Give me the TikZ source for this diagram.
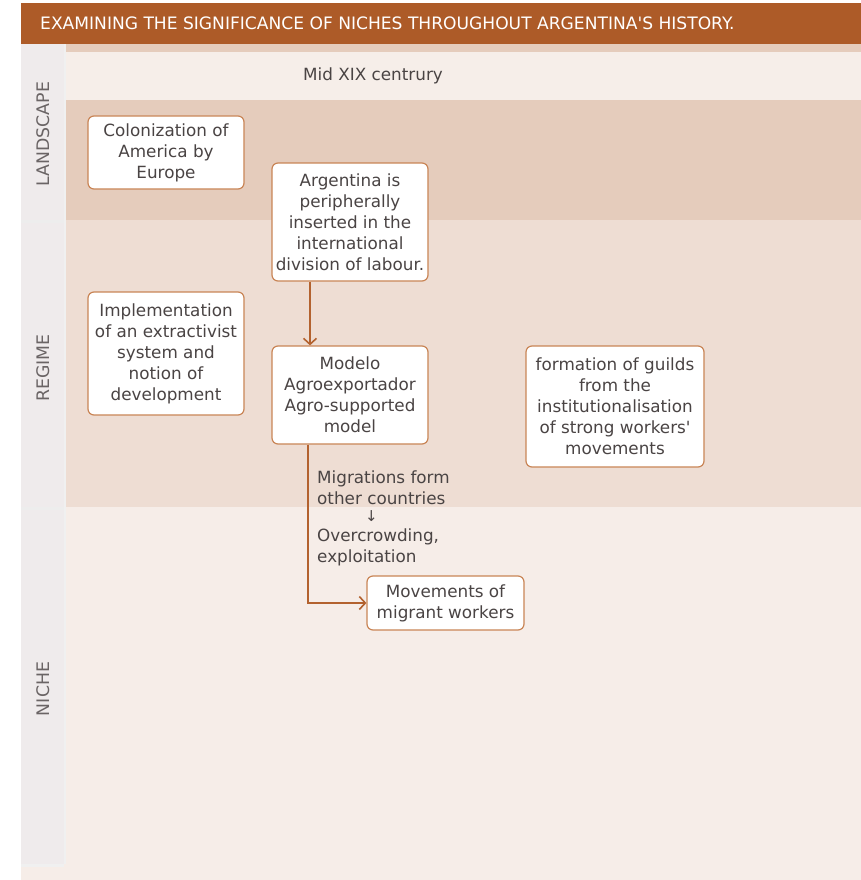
\documentclass[tikz,border=0pt]{standalone}
\usepackage{fontspec}
\setmainfont{DejaVu Sans}[Ligatures=TeXOff]
\usetikzlibrary{arrows.meta}
\definecolor{barcol}{HTML}{AD5B28}
\definecolor{landcol}{HTML}{E5CCBC}
\definecolor{regcol}{HTML}{EEDDD3}
\definecolor{nichecol}{HTML}{F6EDE8}
\definecolor{bandcol}{HTML}{F6EEE9}
\definecolor{colcol}{HTML}{EFEBEC}
\definecolor{edgecol}{HTML}{C98556}
\definecolor{linkcol}{HTML}{B3622F}
\definecolor{txtcol}{HTML}{4A4444}
\definecolor{lblcol}{HTML}{6A6465}
\begin{document}
\begin{tikzpicture}[x=1pt,y=-1pt,
  card/.style={draw=edgecol, line width=1.2pt, fill=white, rounded corners=6pt,
    align=center, text=txtcol, inner sep=0pt,
    font=\fontsize{16.8}{21}\selectfont},
  lanelabel/.style={rotate=90, text=lblcol, font=\fontsize{17.3}{18}\selectfont},
  link/.style={draw=linkcol, line width=1.8pt,
    -{Straight Barb[length=6pt,width=13pt,line width=1.6pt]}},
  note/.style={text=txtcol, align=left, inner sep=0pt,
    font=\fontsize{16.8}{21}\selectfont}]
\useasboundingbox (0,0) rectangle (861,880);
% lanes
\fill[nichecol] (21,44) rectangle (861,880);
\fill[landcol] (64,44) rectangle (861,220);
\fill[bandcol] (64,52) rectangle (861,100);
\fill[regcol] (64,220) rectangle (861,507);
\fill[nichecol] (64,507) rectangle (861,880);
% side column with its three headers
\fill[black!6] (64,44) rectangle (66,864);
\fill[colcol] (21,44) rectangle (64,864);
\fill[black!7] (21,220) rectangle (64,223);
\fill[black!7] (21,507) rectangle (64,510);
\fill[black!6] (21,864) rectangle (64,867);
\node[lanelabel] (lland) at (43,134) {LANDSCAPE};
\node[lanelabel] (lreg) at (43,368) {REGIME};
\node[lanelabel] (lniche) at (43,689) {NICHE};
% title bar
\fill[barcol] (21,3) rectangle (861,44);
\node[anchor=west, text=white, inner sep=0pt, font=\fontsize{17.1}{18}\selectfont]
  (title) at (40,23.5) {EXAMINING THE SIGNIFICANCE OF NICHES THROUGHOUT ARGENTINA'S HISTORY.};
\node[text=txtcol, inner sep=0pt, font=\fontsize{16.8}{18}\selectfont]
  (period) at (373,76) {Mid XIX centrury};
% cards
\node[card, minimum width=156pt, minimum height=73pt] (colon) at (166,152.5)
  {Colonization of\\America by\\Europe};
\node[card, minimum width=156pt, minimum height=118pt] (arg) at (350,222)
  {Argentina is\\peripherally\\inserted in the\\international\\division of labour.};
\node[card, minimum width=156pt, minimum height=123pt] (impl) at (166,353.5)
  {Implementation\\of an extractivist\\system and\\notion of\\development};
\node[card, minimum width=156pt, minimum height=98pt] (model) at (350,395)
  {Modelo\\Agroexportador\\Agro-supported\\model};
\node[card, minimum width=178pt, minimum height=121pt] (guild) at (615,406.5)
  {formation of guilds\\from the\\institutionalisation\\of strong workers'\\movements};
\node[card, minimum width=157pt, minimum height=54pt] (mig) at (445.5,603)
  {Movements of\\migrant workers};
% connectors
\draw[link] ([xshift=-40pt]arg.south) -- ([xshift=-40pt]model.south |- model.north);
\draw[link] ([xshift=-42pt]model.south) |- (mig.west);
\node[note, anchor=north west] (why) at (317,471)
  {Migrations form\\other countries\\[-4pt]
   \hspace*{48pt}{\fontsize{15}{15}\selectfont ↓}\\[-1pt]
   Overcrowding,\\exploitation};
\end{tikzpicture}
\end{document}
